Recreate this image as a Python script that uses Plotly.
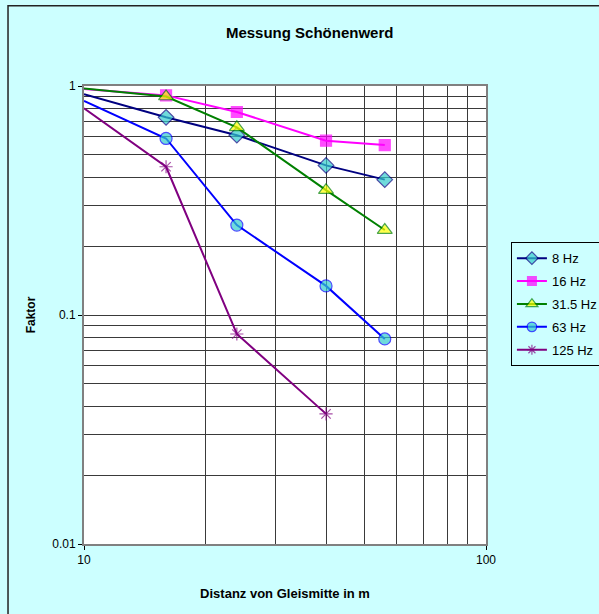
import plotly.graph_objects as go

# Distance from track centre (m) and measured factor per frequency band
distanz = [10, 16, 24, 40, 56]
faktor_8hz = [0.92, 0.73, 0.61, 0.45, 0.39]
faktor_16hz = [0.97, 0.91, 0.77, 0.577, 0.552]
faktor_31hz = [0.975, 0.90, 0.66, 0.351, 0.235]
faktor_63hz = [0.86, 0.59, 0.247, 0.134, 0.0786]
faktor_125hz = [0.80, 0.444, 0.0826, 0.037]

reihen = [
    ("8 Hz", faktor_8hz, "#000080", "diamond", "#33CCCC", "#000080", 12),
    ("16 Hz", faktor_16hz, "#FF00FF", "square", "#FF00FF", "#FF00FF", 11),
    ("31.5 Hz", faktor_31hz, "#008000", "triangle-up", "#FFFF00", "#008000", 13),
    ("63 Hz", faktor_63hz, "#0000FF", "circle", "#33CCCC", "#0000FF", 12),
    ("125 Hz", faktor_125hz, "#800080", "asterisk-open", "#800080", "#800080", 11),
]

FONT = "Liberation Sans, Arial, sans-serif"

fig = go.Figure()
for name, werte, farbe, symbol, fuellung, rand, groesse in reihen:
    n = len(werte)
    # the starting point at the axis edge carries no marker
    sizes = [0] + [groesse] * (n - 1)
    fig.add_trace(go.Scatter(
        x=distanz[:n], y=werte, name=name, mode="lines+markers",
        legendgroup=name,
        line=dict(color=farbe, width=2),
        marker=dict(symbol=symbol, size=sizes, color=fuellung,
                    line=dict(color=rand, width=1.2)),
    ))

grid_col = "#3a3a3a"

fig.update_layout(
    width=599, height=614,
    paper_bgcolor="#CCFFFF", plot_bgcolor="#FFFFFF",
    margin=dict(l=84, r=113, t=86, b=70, autoexpand=False),
    title=dict(text="<b>Messung Schönenwerd</b>", x=0.517, xanchor="center",
               y=0.946, yanchor="middle",
               font=dict(family=FONT, size=15, color="#000")),
    font=dict(family=FONT, size=12, color="#000"),
    showlegend=True,
    legend=dict(x=1.062, xanchor="left", y=0.659, yanchor="top",
                bgcolor="#CCFFFF", bordercolor="#000", borderwidth=1,
                font=dict(family=FONT, size=13, color="#000"),
                traceorder="grouped", tracegroupgap=3, itemwidth=30),
    shapes=[dict(type="rect", xref="paper", yref="paper", x0=-0.189, x1=1.35,
                 y0=-0.25, y1=1.175, line=dict(color="#222", width=1.5))],
)

fig.update_xaxes(
    type="log", range=[1, 2], tickvals=[10, 100], ticktext=["10", "100"],
    tickfont=dict(family=FONT, size=12, color="#000"),
    showgrid=True, gridcolor=grid_col, gridwidth=1,
    minor=dict(dtick="D1", showgrid=True, gridcolor=grid_col, gridwidth=1),
    showline=True, linecolor="#808080", linewidth=2, mirror=True,
    ticks="outside", ticklen=4, tickcolor="#000",
    title=dict(text="<b>Distanz von Gleismitte in m</b>", standoff=22,
               font=dict(family=FONT, size=13, color="#000")),
    zeroline=False,
)
fig.update_yaxes(
    type="log", range=[-2, 0], tickvals=[0.01, 0.1, 1], ticktext=["0.01", "0.1", "1"],
    tickfont=dict(family=FONT, size=12, color="#000"),
    showgrid=True, gridcolor=grid_col, gridwidth=1,
    minor=dict(dtick="D1", showgrid=True, gridcolor=grid_col, gridwidth=1),
    showline=True, linecolor="#808080", linewidth=2, mirror=True,
    ticks="outside", ticklen=4, tickcolor="#000",
    title=dict(text="<b>Faktor</b>", standoff=14,
               font=dict(family=FONT, size=12, color="#000")),
    zeroline=False,
)

fig.write_html("out.html")
